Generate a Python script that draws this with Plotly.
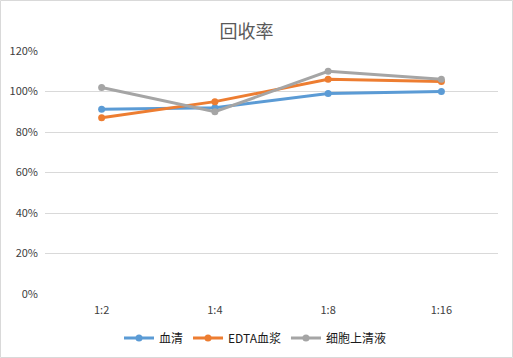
import plotly.graph_objects as go

categories = ["1:2", "1:4", "1:8", "1:16"]
serum = [0.912, 0.92, 0.99, 1.0]
edta_plasma = [0.87, 0.95, 1.06, 1.05]
cell_supernatant = [1.02, 0.90, 1.10, 1.06]
series_names = ["血清", "EDTA血浆", "细胞上清液"]
colors = ["#5B9BD5", "#ED7D31", "#A5A5A5"]

W, H = 513, 358
ml, mr, mt, mb = 45, 15, 51, 64
pw, ph = W - ml - mr, H - mt - mb

font_family = "Noto Sans CJK SC, Noto Sans, sans-serif"

fig = go.Figure()
for name, vals, c in zip(series_names, [serum, edta_plasma, cell_supernatant], colors):
    fig.add_trace(go.Scatter(
        x=categories, y=vals, name=name, mode="lines+markers",
        line=dict(color=c, width=3),
        marker=dict(color=c, size=7),
    ))

fig.update_layout(
    width=W, height=H,
    margin=dict(l=ml, r=mr, t=mt, b=mb, autoexpand=False),
    paper_bgcolor="white", plot_bgcolor="white",
    font=dict(family=font_family, color="#404040", size=11),
    title=dict(text="回收率", x=246.5 / W, xanchor="center", xref="container",
               y=1 - 32 / H, yanchor="middle", yref="container",
               font=dict(size=18, color="#595959", family=font_family)),
    showlegend=True,
    legend=dict(orientation="h", x=255 / W, xanchor="center", xref="container",
                y=1 - 338 / H, yanchor="middle", yref="container",
                font=dict(size=12, color="#1a1a1a"), itemwidth=30, tracegroupgap=0),
    xaxis=dict(type="category", range=[-0.5, 3.5], showgrid=False, zeroline=False,
               showline=False, ticks="", ticklabelstandoff=8,
               tickfont=dict(size=11, color="#404040")),
    yaxis=dict(range=[0, 1.2], dtick=0.2, tickformat=".0%", showgrid=True,
               gridcolor="#D9D9D9", gridwidth=1, zeroline=False, showline=False,
               ticks="", ticklabelstandoff=6, tickfont=dict(size=11, color="#404040")),
    shapes=[dict(type="rect", xref="paper", yref="paper",
                 x0=-(ml - 0.5) / pw, x1=(W - ml - 0.5) / pw,
                 y0=-(mb - 0.5) / ph, y1=(H - mb - 0.5) / ph,
                 line=dict(color="#D9D9D9", width=1), fillcolor="rgba(0,0,0,0)", layer="below")],
)

fig.write_html("out.html", config={"displayModeBar": False},
               post_script="document.body.style.margin='0px';document.body.style.overflow='hidden';")
